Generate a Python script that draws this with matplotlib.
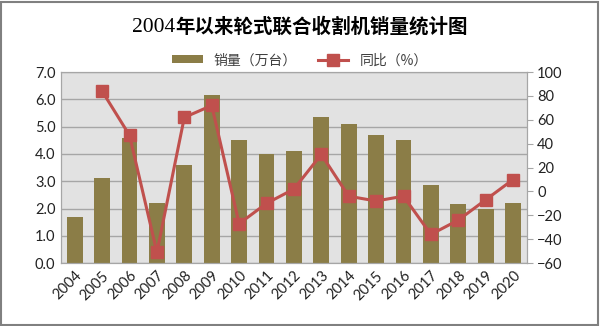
import numpy as np
import matplotlib.pyplot as plt
from matplotlib.lines import Line2D
from matplotlib.patches import Patch

plt.rcParams['font.family'] = ['Lato', 'Noto Sans CJK SC', 'DejaVu Sans']

# data
years = ['2004', '2005', '2006', '2007', '2008', '2009', '2010', '2011', '2012',
         '2013', '2014', '2015', '2016', '2017', '2018', '2019', '2020']
sales = [1.7, 3.1, 4.6, 2.2, 3.6, 6.15, 4.5, 4.0, 4.1,
         5.35, 5.1, 4.7, 4.5, 2.85, 2.15, 2.0, 2.2]
yoy_years = years[1:]
yoy = [84, 47, -51, 62, 72, -27, -10, 2, 31, -4, -8, -4, -36, -24, -7, 10]

bar_color = '#8b7d47'
line_color = '#c0504d'
grid_color = '#a6a6a6'

fig = plt.figure(figsize=(6, 3.26), dpi=100)
ax = fig.add_axes([0.1017, 0.193, 0.7763, 0.586])
ax.set_facecolor('#e2e2e2')

x = np.arange(len(years))
ax.bar(x, sales, width=0.58, color=bar_color, zorder=2)
ax.set_ylim(0, 7)
ax.set_xlim(-0.5, len(years) - 0.5)
ax.set_yticks(np.arange(0, 7.1, 1))
ax.set_yticklabels(['%.1f' % v for v in np.arange(0, 7.1, 1)], fontsize=10.5)
ax.yaxis.grid(True, color=grid_color, lw=1, zorder=1)
ax.set_axisbelow(True)
ax.set_xticks(x)
ax.set_xticklabels(years, rotation=45, ha='right', rotation_mode='anchor', fontsize=10.5)
ax.tick_params(axis='both', length=0, pad=4, colors='#222222')
for s in ax.spines.values():
    s.set_color(grid_color)

ax2 = ax.twinx()
xi = [years.index(y) for y in yoy_years]
ax2.plot(xi, yoy, color=line_color, lw=2.2, marker='s', markersize=9,
         markerfacecolor=line_color, markeredgecolor=line_color, zorder=3)
ax2.set_ylim(-60, 100)
ax2.set_yticks(np.arange(-60, 101, 20))
ax2.tick_params(axis='y', length=4, color=grid_color, labelsize=10.5, labelcolor='#222222')
for s in ax2.spines.values():
    s.set_color(grid_color)

# title: serif digits, bold Chinese
renderer = fig.canvas.get_renderer()
t1 = fig.text(0, 0.917, '2004', ha='left', va='center', fontsize=15.5,
              family='Liberation Serif')
t2 = fig.text(0, 0.917, '年以来轮式联合收割机销量统计图', ha='left', va='center',
              fontsize=14, family='Noto Sans CJK SC', weight='bold')
w1 = t1.get_window_extent(renderer).width / fig.bbox.width
w2 = t2.get_window_extent(renderer).width / fig.bbox.width
x0 = 0.5 - (w1 + w2) / 2
t1.set_x(x0)
t2.set_x(x0 + w1)

handles = [Patch(facecolor=bar_color, edgecolor='none'),
           Line2D([], [], color=line_color, lw=2.2, marker='s', markersize=8)]
fig.legend(handles, ['销量（万台）', '同比（%）'], loc='center', bbox_to_anchor=(0.5, 0.815),
           ncol=2, frameon=False, handlelength=2.2, handleheight=0.5,
           columnspacing=1.5, labelcolor='#404040',
           prop={'family': ['Noto Sans CJK SC'], 'size': 10})

fig.patches.append(plt.Rectangle((0.002, 0.003), 0.995, 0.992, transform=fig.transFigure,
                                 fill=False, edgecolor='#808080', lw=1.5))

fig.savefig('out.png', dpi=100)
